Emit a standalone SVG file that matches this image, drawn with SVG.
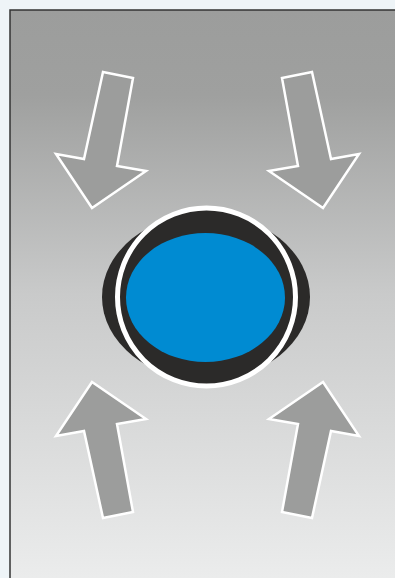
<svg xmlns="http://www.w3.org/2000/svg" width="395" height="578" viewBox="0 0 395 578">
<defs>
<linearGradient id="bg" x1="0" y1="10" x2="0" y2="578" gradientUnits="userSpaceOnUse">
<stop offset="0" stop-color="#9c9d9c"/>
<stop offset="0.15" stop-color="#9fa09f"/>
<stop offset="0.5" stop-color="#c9caca"/>
<stop offset="1" stop-color="#ebecec"/>
</linearGradient>
<polygon id="arr" points="103,72 133,78 117,166 146,171 92,208 56,154 84,159"/>
</defs>
<style>
.arrow{fill:#9c9d9c;stroke:#ffffff;stroke-width:2.5;stroke-linejoin:miter}
</style>
<rect x="0" y="0" width="395" height="578" fill="#eef4f7"/>
<rect x="10" y="10" width="400" height="580" fill="url(#bg)" stroke="#333333" stroke-width="1.5"/>
<g id="arrow-top-left"><use href="#arr" class="arrow"/></g>
<g id="arrow-top-right"><use href="#arr" class="arrow" transform="translate(415,0) scale(-1,1)"/></g>
<g id="arrow-bottom-left"><use href="#arr" class="arrow" transform="translate(0,590) scale(1,-1)"/></g>
<g id="arrow-bottom-right"><use href="#arr" class="arrow" transform="translate(415,590) scale(-1,-1)"/></g>
<g id="button">
<ellipse cx="206" cy="297" rx="104" ry="83" fill="#2b2a29"/>
<circle cx="206.5" cy="297" r="89" fill="#2b2a29" stroke="#ffffff" stroke-width="5"/>
<ellipse cx="205.5" cy="297.5" rx="79.5" ry="64.5" fill="#008bd2"/>
</g>
</svg>
